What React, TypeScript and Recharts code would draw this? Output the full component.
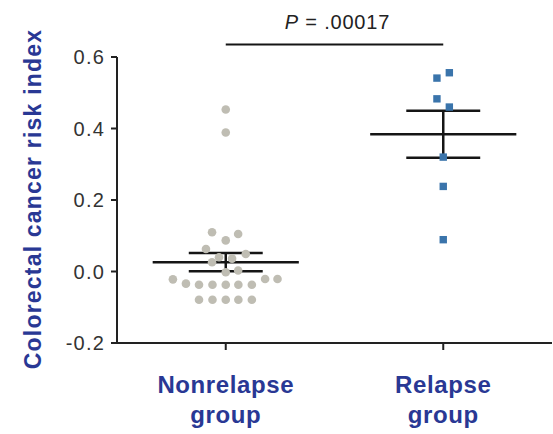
import React from 'react';
import {
    ScatterChart,
    Scatter,
    XAxis,
    YAxis,
    ReferenceLine
} from 'recharts';

// Group names and tick positions
const categories = ['Nonrelapse group', 'Relapse group'];
const categoryTicks = [1, 2];
const yTicks = [-0.2, 0, 0.2, 0.4, 0.6];

// Colorectal cancer risk index per patient
const nonrelapseValues = [
    0.453, 0.389, 0.110, 0.105, 0.087, 0.063, 0.049, 0.040, 0.036, 0.026,
    -0.002, 0.003, -0.022, -0.034, -0.037, -0.037, -0.037, -0.037, -0.037,
    -0.021, -0.021, -0.079, -0.079, -0.079, -0.079, -0.079
];
// horizontal scatter of each dot around its group (x units)
const nonrelapseJitter = [
    0, 0, -0.063, 0.057, 0, -0.091, 0.092, -0.031, 0.029, -0.063,
    0, 0.057, -0.243, -0.183, -0.123, -0.061, 0, 0.058, 0.12,
    0.181, 0.238, -0.123, -0.061, 0, 0.058, 0.12
];

const relapseValues = [0.556, 0.541, 0.483, 0.460, 0.320, 0.238, 0.089];
const relapseJitter = [0.028, -0.029, -0.029, 0.028, 0, 0, 0];

const pValueText = '.00017';

const BLUE_TEXT = '#293894';
const FONT = '"Liberation Sans", Arial, Helvetica, sans-serif';

const toPoints = (values: number[], jitter: number[], group: number) =>
    values.map((v, i) => ({ x: group + jitter[i], y: v }));

const meanSem = (values: number[]) => {
    const n = values.length;
    const mean = values.reduce((s, v) => s + v, 0) / n;
    const sd = Math.sqrt(values.reduce((s, v) => s + (v - mean) ** 2, 0) / (n - 1));
    return { mean, sem: sd / Math.sqrt(n) };
};

const nonrelapsePoints = toPoints(nonrelapseValues, nonrelapseJitter, categoryTicks[0]);
const relapsePoints = toPoints(relapseValues, relapseJitter, categoryTicks[1]);

const groupStats = [
    { x: categoryTicks[0], ...meanSem(nonrelapseValues) },
    { x: categoryTicks[1], ...meanSem(relapseValues) },
];

const GrayDot = (props: any) => <circle cx={props.cx} cy={props.cy} r={4.3} fill="#bfbdb3" />;
const BlueSquare = (props: any) => (
    <rect x={props.cx - 3.7} y={props.cy - 3.7} width={7.4} height={7.4} fill="#3a74ab" />
);

const GroupTick = (props: any) => {
    const { x, y, payload } = props;
    const idx = categoryTicks.indexOf(payload.value);
    const words = (categories[idx] || '').split(' ');
    return (
        <text x={x} textAnchor="middle" fill={BLUE_TEXT} fontFamily={FONT} fontWeight="bold" fontSize={24} letterSpacing={0.6}>
            <tspan x={x} y={y + 41}>{words[0]}</tspan>
            <tspan x={x} y={y + 71}>{words[1]}</tspan>
        </text>
    );
};

const MEAN_HALF = 0.336;
const CAP_HALF = 0.17;
const LINE = '#151515';

export default function App() {
    return (
        <div style={{ position: 'absolute', left: 0, top: 0, width: 553, height: 434, background: '#fff' }}>
            <ScatterChart width={553} height={434} margin={{ top: 57, right: 1, bottom: 0, left: 0 }}>
                <XAxis
                    type="number"
                    dataKey="x"
                    domain={[0.5, 2.5]}
                    ticks={categoryTicks}
                    height={91}
                    axisLine={{ stroke: '#222', strokeWidth: 2 }}
                    tickLine={{ stroke: '#222', strokeWidth: 2 }}
                    tickSize={7}
                    tick={<GroupTick />}
                    interval={0}
                />
                <YAxis
                    type="number"
                    dataKey="y"
                    domain={[-0.2, 0.6]}
                    ticks={yTicks}
                    width={117}
                    axisLine={{ stroke: '#222', strokeWidth: 2 }}
                    tickLine={{ stroke: '#222', strokeWidth: 2 }}
                    tickSize={6}
                    tickMargin={6}
                    tick={{ fill: '#333', fontSize: 20, fontFamily: FONT, letterSpacing: 1.2 }}
                    tickFormatter={(v: number) => v.toFixed(1)}
                    label={{
                        content: ({ viewBox }: any) => {
                            const cx = viewBox.x + 33;
                            const cy = viewBox.y + viewBox.height / 2 - 1;
                            return (
                                <text x={cx} y={cy} transform={`rotate(-90, ${cx}, ${cy})`} textAnchor="middle"
                                    dominantBaseline="central" fill={BLUE_TEXT} fontFamily={FONT}
                                    fontWeight="bold" fontSize={23} letterSpacing={1.2}>
                                    Colorectal  cancer risk index
                                </text>
                            );
                        }
                    }}
                />
                <Scatter data={nonrelapsePoints} shape={GrayDot} isAnimationActive={false} />
                <Scatter data={relapsePoints} shape={BlueSquare} isAnimationActive={false} />

                {groupStats.map((g) => (
                    <React.Fragment key={g.x}>
                        <ReferenceLine segment={[{ x: g.x - MEAN_HALF, y: g.mean }, { x: g.x + MEAN_HALF, y: g.mean }]}
                            stroke={LINE} strokeWidth={2.5} ifOverflow="visible" />
                        <ReferenceLine segment={[{ x: g.x - CAP_HALF, y: g.mean + g.sem }, { x: g.x + CAP_HALF, y: g.mean + g.sem }]}
                            stroke={LINE} strokeWidth={2.5} ifOverflow="visible" />
                        <ReferenceLine segment={[{ x: g.x - CAP_HALF, y: g.mean - g.sem }, { x: g.x + CAP_HALF, y: g.mean - g.sem }]}
                            stroke={LINE} strokeWidth={2.5} ifOverflow="visible" />
                        <ReferenceLine segment={[{ x: g.x, y: g.mean - g.sem }, { x: g.x, y: g.mean + g.sem }]}
                            stroke={LINE} strokeWidth={2.5} ifOverflow="visible" />
                    </React.Fragment>
                ))}

                <ReferenceLine
                    segment={[{ x: categoryTicks[0], y: 0.635 }, { x: categoryTicks[1], y: 0.635 }]}
                    stroke={LINE}
                    strokeWidth={2}
                    ifOverflow="visible"
                    label={{
                        content: ({ viewBox }: any) => (
                            <text x={viewBox.x + viewBox.width / 2 + 3} y={viewBox.y - 15} textAnchor="middle"
                                fill="#222" fontFamily={FONT} fontSize={20} letterSpacing={0.8}>
                                <tspan fontStyle="italic">P</tspan> = {pValueText}
                            </text>
                        )
                    }}
                />
            </ScatterChart>
        </div>
    );
}
